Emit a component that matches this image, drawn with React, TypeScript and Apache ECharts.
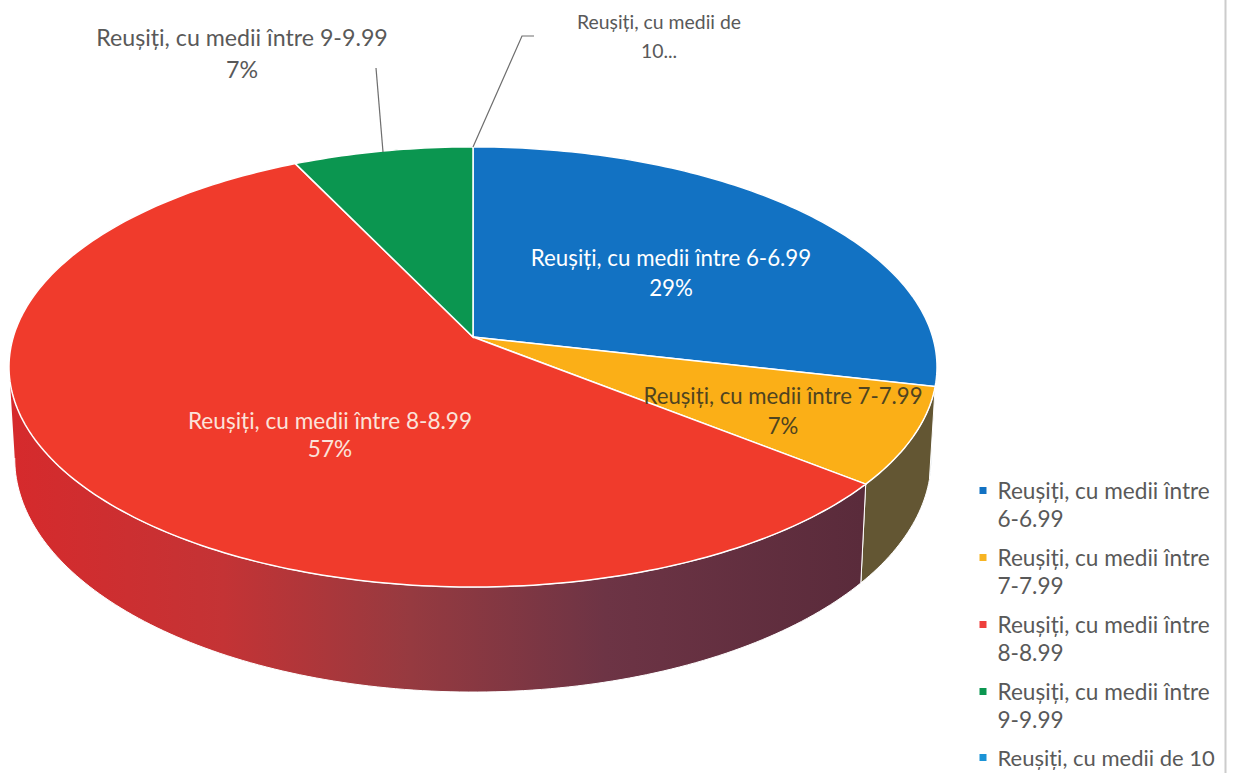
import React, { useEffect, useRef } from "react";
import * as echarts from "echarts";

const categories = [
  "Reușiți, cu medii între 6-6.99",
  "Reușiți, cu medii între 7-7.99",
  "Reușiți, cu medii între 8-8.99",
  "Reușiți, cu medii între 9-9.99",
  "Reușiți, cu medii de 10",
];
const values = [4, 1, 8, 1, 0];
const topColors = ["#1272c3", "#fbaf17", "#f03b2c", "#0b9650", "#1b93d6"];
const legendColors = ["#1272c3", "#f7b422", "#ee3f3c", "#0b9650", "#1b93d6"];
const wallStops: [number, string][] = [
  [0, "#d62a2c"],
  [0.25, "#c43335"],
  [0.47, "#963a40"],
  [0.7, "#6d3445"],
  [1, "#5a2b3b"],
];
const wallColors = ["#0c3f6b", "#635633", "", "#0b5a30", "#0c3f6b"];

const total = values.reduce((a, b) => a + b, 0);
const K = -0.136;
const TOP = { cx: 473, cy: 337, rx: 459.7, ry: 216 };
const BOTTOM = { cx: 473, cy: 427, rx: 454, ry: 229 };

function project(theta: number, e: typeof TOP): number[] {
  const u = Math.sin(theta);
  const v = -Math.cos(theta);
  const w = 1 + K * v;
  return [e.cx + (e.rx * u) / w, e.cy + (e.ry * v) / w];
}

function arc(a0: number, a1: number, e: typeof TOP): number[][] {
  const n = Math.max(2, Math.ceil(((a1 - a0) * 180) / Math.PI));
  const pts: number[][] = [];
  for (let i = 0; i <= n; i++) pts.push(project(a0 + ((a1 - a0) * i) / n, e));
  return pts;
}

const leftmost = (pts: number[][]) => pts.reduce((m, p) => (p[0] < m[0] ? p : m), pts[0]);

function sliceRenderer(index: number) {
  return () => {
    if (!values[index]) return null;
    const before = values.slice(0, index).reduce((a, b) => a + b, 0);
    const a0 = (before / total) * Math.PI * 2;
    const a1 = ((before + values[index]) / total) * Math.PI * 2;
    const topArc = arc(a0, a1, TOP);
    const bottomArc = arc(a0, a1, BOTTOM);
    const wallFill =
      index === 2
        ? new echarts.graphic.LinearGradient(
            10, 0, 862, 0,
            wallStops.map(([offset, color]) => ({ offset, color })),
            true
          )
        : wallColors[index];
    const children: any[] = [
      {
        type: "polygon",
        z2: 1,
        shape: { points: [...topArc, ...[...bottomArc].reverse()] },
        style: { fill: wallFill, stroke: "#ffffff", lineWidth: 1 },
      },
      {
        type: "polygon",
        z2: 10,
        shape: { points: [[TOP.cx, TOP.cy], ...topArc] },
        style: { fill: topColors[index], stroke: "#ffffff", lineWidth: 1.5 },
      },
    ];
    if (index === 2) {
      // the wall's silhouette on the far left: from the widest point of the top to that of the base
      children.push({
        type: "polygon",
        z2: 2,
        shape: { points: [leftmost(topArc), leftmost(bottomArc), [BOTTOM.cx, BOTTOM.cy]] },
        style: { fill: wallFill },
      });
    }
    return { type: "group", children };
  };
}

const pct = (i: number) => `${Math.round((values[i] / total) * 100)}%`;
const FONT = "Lato";
const GREY = "#595959";

function label(text: string, x: number, y: number, fill: string, size: number, lineHeight = 30) {
  return {
    type: "text",
    x,
    y,
    z: 20,
    style: {
      text,
      fill,
      font: `${size}px ${FONT}`,
      lineHeight,
      textAlign: "center",
      textVerticalAlign: "middle",
    },
  };
}

export default function App() {
  const ref = useRef<HTMLDivElement>(null);
  useEffect(() => {
    const chart = echarts.init(ref.current!, null, { renderer: "svg" });
    chart.setOption({
      animation: false,
      backgroundColor: "#ffffff",
      legend: [
        {
          orient: "vertical",
          left: 979.5,
          top: 476,
          padding: 0,
          itemGap: 11,
          itemWidth: 7,
          itemHeight: 56,
          selectedMode: false,
          icon: "path://M0,0L0,0M0,11L7,11L7,18L0,18ZM7,56L7,56",
          data: categories.slice(0, 4),
          formatter: (n: string) => n.replace(/ (\d)/, "\n$1"),
          textStyle: { color: GREY, fontFamily: FONT, fontSize: 22.6, lineHeight: 28, padding: [0, 0, 0, 6] },
        },
        {
          orient: "vertical",
          left: 979.5,
          top: 743,
          padding: 0,
          itemWidth: 7,
          itemHeight: 28,
          selectedMode: false,
          icon: "path://M0,0L0,0M0,11L7,11L7,18L0,18ZM7,28L7,28",
          data: categories.slice(4),
          textStyle: { color: GREY, fontFamily: FONT, fontSize: 22, lineHeight: 28, padding: [0, 0, 0, 6] },
        },
      ],
      series: categories.map((name, i) => ({
        type: "custom",
        name,
        coordinateSystem: "none",
        silent: true,
        data: [values[i]],
        itemStyle: { color: legendColors[i] },
        renderItem: sliceRenderer(i),
      })),
      graphic: [
        { type: "line", z: 1, shape: { x1: 1225.5, y1: 0, x2: 1225.5, y2: 773 }, style: { stroke: "#cccccc", lineWidth: 2 } },
        { type: "polyline", z: 20, shape: { points: [[376, 68], [383, 152]] }, style: { stroke: "#6e6e6e", lineWidth: 1.2, fill: "none" } },
        { type: "polyline", z: 20, shape: { points: [[534, 36], [522, 36], [473, 147]] }, style: { stroke: "#6e6e6e", lineWidth: 1.2, fill: "none" } },
        label(`${categories[0]}\n${pct(0)}`, 671, 272.5, "#ffffff", 22.3),
        label(`${categories[1]}\n${pct(1)}`, 783, 410.5, "#4f4420", 22.2),
        label(`${categories[2]}\n${pct(2)}`, 330, 434.5, "#fbe3da", 22.6, 28),
        label(`${categories[3]}\n${pct(3)}`, 242, 52.5, GREY, 23.2, 32),
        label("Reușiți, cu medii de\n10...", 659, 35.5, GREY, 19.4, 29),
      ],
    });
    return () => chart.dispose();
  }, []);
  return <div ref={ref} style={{ position: "fixed", left: 0, top: 0, width: 1234, height: 773 }} />;
}
